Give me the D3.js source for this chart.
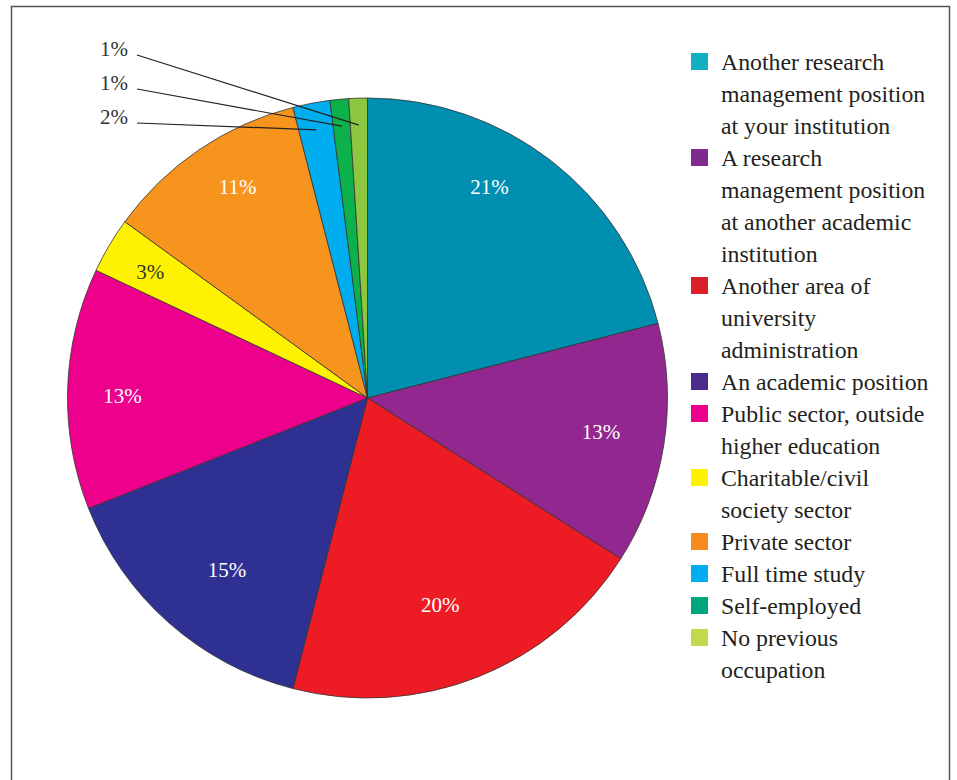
<!DOCTYPE html>
<html>
<head>
<meta charset="utf-8">
<script src="https://cdn.jsdelivr.net/npm/d3@7"></script>
<style>
  html, body { margin: 0; padding: 0; background: #fff; }
  svg { display: block; }
  text { font-family: "Liberation Serif", "Times New Roman", serif; }
</style>
</head>
<body>
<svg id="chart" width="957" height="780"></svg>
<script>
// Previous occupation of respondents (share of total, %)
const categories = [
  "Another research management position at your institution",
  "A research management position at another academic institution",
  "Another area of university administration",
  "An academic position",
  "Public sector, outside higher education",
  "Charitable/civil society sector",
  "Private sector",
  "Full time study",
  "Self-employed",
  "No previous occupation"
];
const values = [21, 13, 20, 15, 13, 3, 11, 2, 1, 1];
const valueLabels = ["21%", "13%", "20%", "15%", "13%", "3%", "11%", "2%", "1%", "1%"];

// Legend wording, broken over lines as set in the key
const legendLines = [
  ["Another research", "management position", "at your institution"],
  ["A research", "management position", "at another academic", "institution"],
  ["Another area of", "university", "administration"],
  ["An academic position"],
  ["Public sector, outside", "higher education"],
  ["Charitable/civil", "society sector"],
  ["Private sector"],
  ["Full time study"],
  ["Self-employed"],
  ["No previous", "occupation"]
];

const sliceColors = ["#008fb1", "#92278f", "#ed1c24", "#2e3192", "#ec008c",
                     "#fff200", "#f7941d", "#00aeef", "#0db14b", "#8dc63f"];
const swatchColors = ["#12afc0", "#7f2a8f", "#da1f26", "#4b2b8c", "#ec008c",
                      "#fff200", "#f68b1f", "#00aeef", "#00a67e", "#c4d94a"];

const svg = d3.select("#chart");

// outer frame (open at the bottom edge of the page)
svg.append("rect")
  .attr("x", 11.5).attr("y", 6.5)
  .attr("width", 938).attr("height", 820)
  .attr("fill", "none").attr("stroke", "#555").attr("stroke-width", 1.5);

const cx = 367.5, cy = 398, R = 300;
const g = svg.append("g").attr("transform", `translate(${cx},${cy})`);

const pie = d3.pie().sort(null).value(d => d);
const arcs = pie(values);
const arc = d3.arc().innerRadius(0).outerRadius(R);

g.selectAll("path.slice")
  .data(arcs)
  .enter().append("path")
  .attr("class", "slice")
  .attr("d", arc)
  .attr("fill", (d, i) => sliceColors[i])
  .attr("stroke", "#333")
  .attr("stroke-width", 0.8);

// inside labels for the larger slices: hand-set offsets from the slice
// mid-angle (degrees) and the radius at which each label sits
const labelPlacement = {
  0: [-7.8, 244], 1: [-0.7, 236], 2: [2.2, 219], 3: [-2.1, 222],
  4: [-1.3, 245], 5: [-0.5, 251], 6: [2.6, 248]
};
const polar = (a, r) => [Math.sin(a) * r, -Math.cos(a) * r];

arcs.forEach((d, i) => {
  if (values[i] < 3) return;
  const [dA, r] = labelPlacement[i];
  const a = (d.startAngle + d.endAngle) / 2 + dA * Math.PI / 180;
  const [x, y] = polar(a, r);
  g.append("text")
    .attr("x", x).attr("y", y)
    .attr("dy", "0.35em")
    .attr("text-anchor", "middle")
    .attr("font-size", 21)
    .attr("fill", values[i] === 3 ? "#333" : "#fff")
    .text(valueLabels[i]);
});

// small slices: labels stacked at top-left with leader lines
const small = arcs.map((d, i) => i).filter(i => values[i] < 3).reverse();
small.forEach((i, k) => {
  const d = arcs[i];
  const a = (d.startAngle + d.endAngle) / 2;
  const [ex, ey] = polar(a, R * 0.91);
  const rowY = 49 + 34 * k;
  svg.append("text")
    .attr("x", 128).attr("y", rowY)
    .attr("dy", "0.35em")
    .attr("text-anchor", "end")
    .attr("font-size", 21)
    .attr("fill", "#333")
    .text(valueLabels[i]);
  svg.append("line")
    .attr("x1", 137).attr("y1", rowY + 6)
    .attr("x2", cx + ex).attr("y2", cy + ey)
    .attr("stroke", "#222").attr("stroke-width", 1.2);
});

// legend
const lineH = 32;
const legend = svg.append("g").attr("transform", "translate(691,53)");
let row = 0;
legendLines.forEach((lines, i) => {
  const y0 = row * lineH;
  legend.append("rect")
    .attr("x", 0).attr("y", y0)
    .attr("width", 17).attr("height", 17)
    .attr("fill", swatchColors[i]);
  lines.forEach((t, j) => {
    legend.append("text")
      .attr("x", 30).attr("y", y0 + 17 + j * lineH)
      .attr("font-size", 23.8)
      .attr("fill", "#231f20")
      .text(t);
  });
  row += lines.length;
});
</script>
</body>
</html>
